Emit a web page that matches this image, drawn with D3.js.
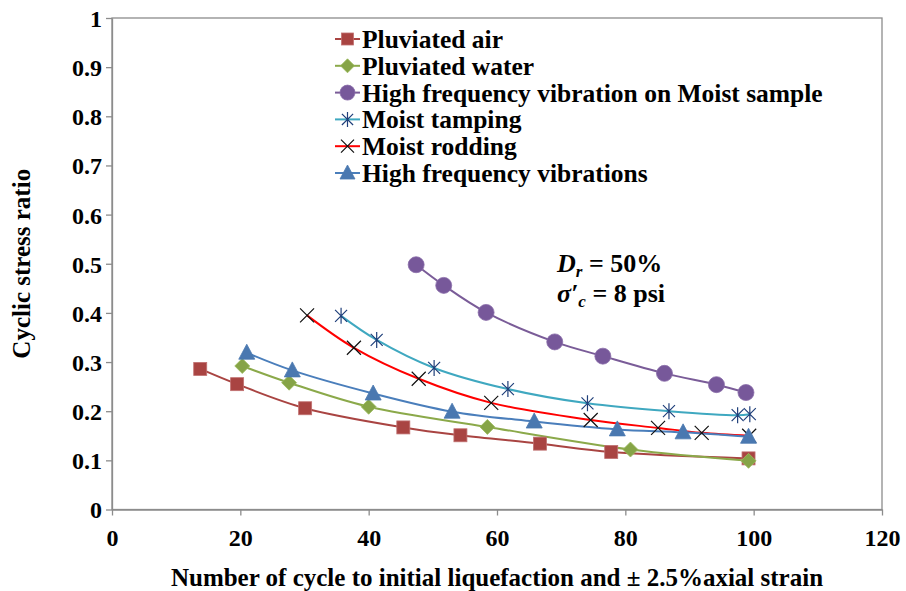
<!DOCTYPE html>
<html>
<head>
<meta charset="utf-8">
<script src="https://cdn.jsdelivr.net/npm/d3@7"></script>
<style>
  body { margin: 0; background: #fff; }
  svg text { font-family: "Times New Roman", "Liberation Serif", "DejaVu Serif", serif !important; font-weight: bold; fill: #000; }
</style>
</head>
<body>
<svg id="chart" width="906" height="591"></svg>
<script>
// values: [cycles, CSR]
const pluviatedAir = [[13.75,0.286],[19.5,0.255],[30.1,0.206],[45.4,0.167],[54.3,0.151],[66.7,0.134],[77.8,0.117],[99.2,0.104]];
const pluviatedWater = [[20.3,0.292],[27.6,0.258],[40.0,0.209],[58.5,0.168],[80.8,0.122],[99.2,0.099]];
const hfMoist = [[47.4,0.498],[51.7,0.456],[58.3,0.401],[69.0,0.341],[76.5,0.312],[86.1,0.277],[94.2,0.254],[98.8,0.238]];
const moistTamping = [[35.7,0.394],[41.25,0.345],[50.2,0.288],[61.7,0.245],[74.1,0.216],[86.8,0.200],[97.5,0.192],[99.4,0.194]];
const moistRodding = [[30.4,0.395],[37.7,0.329],[47.8,0.266],[59.1,0.217],[74.6,0.182],[85.1,0.166],[91.9,0.156],[99.3,0.150]];
const hfVibrations = [[21.0,0.319],[28.1,0.283],[40.7,0.236],[53.0,0.199],[65.8,0.179],[78.75,0.163],[89.0,0.157],[99.2,0.148]];

const seriesNames = ["Pluviated air", "Pluviated water", "High frequency vibration on Moist sample",
  "Moist tamping", "Moist rodding", "High frequency vibrations"];
const xTicks = [0, 20, 40, 60, 80, 100, 120];
const yTicks = [0, 0.1, 0.2, 0.3, 0.4, 0.5, 0.6, 0.7, 0.8, 0.9, 1];

const series = [
  { name: seriesNames[0], data: pluviatedAir, line: "#A94442", fill: "#A94442", stroke: "#C07070", shape: "square" },
  { name: seriesNames[1], data: pluviatedWater, line: "#8BA94A", fill: "#86A447", stroke: "#9CBB5C", shape: "diamond" },
  { name: seriesNames[2], data: hfMoist, line: "#7A5C98", fill: "#77589A", stroke: "#8A6DAA", shape: "circle" },
  { name: seriesNames[3], data: moistTamping, line: "#3FA8C0", fill: "none", stroke: "#1F3F7A", shape: "asterisk" },
  { name: seriesNames[4], data: moistRodding, line: "#FF0000", fill: "none", stroke: "#111", shape: "x" },
  { name: seriesNames[5], data: hfVibrations, line: "#4A7EBB", fill: "#4A78B0", stroke: "#4A78B0", shape: "triangle" }
];

const svg = d3.select("#chart");
const m = { left: 112, right: 882, top: 18, bottom: 509.5 };

const x = d3.scaleLinear().domain([0, 120]).range([m.left, m.right]);
const y = d3.scaleLinear().domain([0, 1]).range([m.bottom, m.top]);

// plot frame
svg.append("rect")
  .attr("x", m.left).attr("y", m.top)
  .attr("width", m.right - m.left).attr("height", m.bottom - m.top)
  .attr("fill", "none").attr("stroke", "#8c8c8c").attr("stroke-width", 1.3);

const xAxis = svg.append("g")
  .attr("transform", `translate(0,${m.bottom})`)
  .call(d3.axisBottom(x).tickValues(xTicks).tickSize(6).tickSizeOuter(0).tickPadding(13));
const yAxis = svg.append("g")
  .attr("transform", `translate(${m.left},0)`)
  .call(d3.axisLeft(y).tickValues(yTicks).tickSize(6).tickSizeOuter(0).tickPadding(4)
    .tickFormat(d => d === 0 || d === 1 ? String(d) : d3.format(".1f")(d)));

[xAxis, yAxis].forEach(g => {
  g.attr("font-family", null);
  g.select(".domain").attr("stroke", "#8c8c8c").attr("stroke-width", 1.3);
  g.selectAll(".tick line").attr("stroke", "#8c8c8c").attr("stroke-width", 1.3);
  g.selectAll(".tick text").style("font-size", "24px").attr("fill", "#000");
});
xAxis.selectAll(".tick text").attr("dy", "0.71em");
yAxis.selectAll(".tick text").attr("dy", "0.35em");

// axis titles
svg.append("text")
  .attr("x", 497).attr("y", 586)
  .attr("text-anchor", "middle").style("font-size", "25px")
  .text("Number of cycle to initial liquefaction and \u00b1 2.5%axial strain");
svg.append("text")
  .attr("transform", `translate(30,${(m.top + m.bottom) / 2}) rotate(-90)`)
  .attr("text-anchor", "middle").style("font-size", "25px")
  .text("Cyclic stress ratio");

// marker drawing
function drawMarker(g, shape, s, size) {
  const r = size / 2;
  if (shape === "square") {
    g.append("rect").attr("x", -r).attr("y", -r).attr("width", size).attr("height", size)
      .attr("fill", s.fill).attr("stroke", s.stroke).attr("stroke-width", 0.8);
  } else if (shape === "diamond") {
    g.append("path").attr("d", `M0,${-r - 1}L${r + 1},0L0,${r + 1}L${-r - 1},0Z`)
      .attr("fill", s.fill).attr("stroke", s.stroke).attr("stroke-width", 0.8);
  } else if (shape === "circle") {
    g.append("circle").attr("r", r + 1.5).attr("fill", s.fill).attr("stroke", s.stroke).attr("stroke-width", 0.8);
  } else if (shape === "triangle") {
    g.append("path").attr("d", `M0,${-r - 2}L${r + 1.5},${r}L${-r - 1.5},${r}Z`)
      .attr("fill", s.fill).attr("stroke", s.stroke).attr("stroke-width", 0.8);
  } else if (shape === "asterisk") {
    const d = (r + 1) * 0.8;
    g.append("path").attr("d", `M0,${-r - 1.5}L0,${r + 1.5}M${-d},${-d}L${d},${d}M${-d},${d}L${d},${-d}`)
      .attr("stroke", s.stroke).attr("stroke-width", 1.2).attr("fill", "none");
  } else if (shape === "x") {
    const d = r + 0.5;
    g.append("path").attr("d", `M${-d},${-d}L${d},${d}M${-d},${d}L${d},${-d}`)
      .attr("stroke", s.stroke).attr("stroke-width", 1.2).attr("fill", "none");
  }
}

const line = d3.line().x(d => x(d[0])).y(d => y(d[1])).curve(d3.curveCatmullRom.alpha(0.5));

const plot = svg.append("g");
series.forEach(s => {
  plot.append("path").datum(s.data)
    .attr("d", line).attr("fill", "none")
    .attr("stroke", s.line).attr("stroke-width", 2);
});
series.forEach(s => {
  plot.selectAll(null).data(s.data).join("g")
    .attr("transform", d => `translate(${x(d[0])},${y(d[1])})`)
    .each(function() { drawMarker(d3.select(this), s.shape, s, 13); });
});

// legend
const legend = svg.append("g").attr("transform", "translate(335,39)");
series.forEach((s, i) => {
  const g = legend.append("g").attr("transform", `translate(0,${i * 26.8})`);
  g.append("line").attr("x1", 0).attr("x2", 25).attr("y1", 0).attr("y2", 0)
    .attr("stroke", s.line).attr("stroke-width", 2);
  drawMarker(g.append("g").attr("transform", "translate(12.5,0)"), s.shape, s, 12);
  g.append("text").attr("x", 27).attr("y", 0).attr("dy", "0.35em")
    .style("font-size", "25.5px").text(s.name);
});

// annotation
const ann = svg.append("g").style("font-size", "26px");
const t1 = ann.append("text").attr("x", 557).attr("y", 272);
t1.append("tspan").style("font-style", "italic").text("D");
t1.append("tspan").style("font-style", "italic").style("font-size", "17px").attr("dy", 5).text("r");
t1.append("tspan").attr("dy", -5).text(" = 50%");
const t2 = ann.append("text").attr("x", 557).attr("y", 302);
t2.append("tspan").style("font-style", "italic").text("\u03c3\u2032");
t2.append("tspan").style("font-style", "italic").style("font-size", "17px").attr("dy", 5).text("c");
t2.append("tspan").attr("dy", -5).text(" = 8 psi");
</script>
</body>
</html>
